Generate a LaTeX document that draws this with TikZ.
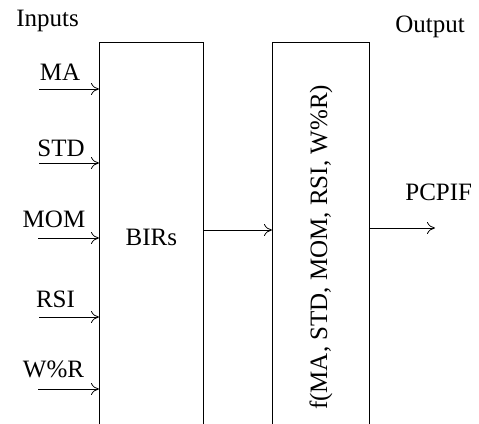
\documentclass[tikz,border=0pt]{standalone}
\usepackage{fontspec}
\setmainfont{Liberation Serif}
\usepackage{tikz}
\usetikzlibrary{positioning, arrows.meta}

\begin{document}
\begin{tikzpicture}[x=1pt,y=-1pt,line width=0.8pt,
    >={To[length=8pt, width=12pt]},
    blk/.style={draw, rectangle, inner sep=0pt, anchor=north west},
    lbl/.style={anchor=base, inner sep=0pt}]
    \fontsize{25}{28}\selectfont
    \useasboundingbox (0,0) rectangle (479,423);
    \clip (0,0) rectangle (479,423);

    \node[blk, minimum width=104pt, minimum height=390pt] (birs) at (99,42) {BIRs};
    \node[blk, minimum width=97pt, minimum height=410pt] (fun) at (272,42)
        {\rotatebox{90}{f(MA, STD, MOM, RSI, W\%R)}};

    \node[lbl, anchor=base west] (in) at (16,27) {Inputs};
    \node[lbl, anchor=base west] (out) at (395,32) {Output};

    % inputs
    \coordinate (ma) at (39,89);
    \coordinate (std) at (39,163);
    \coordinate (mom) at (38,238);
    \coordinate (rsi) at (39,317);
    \coordinate (wr) at (38,389);
    \node[lbl] (lma) at (60,80) {MA};
    \node[lbl] (lstd) at (61,156) {STD};
    \node[lbl] (lmom) at (54,227) {MOM};
    \node[lbl] (lrsi) at (55.5,307) {RSI};
    \node[lbl] (lwr) at (53.5,377) {W\%R};

    \path[->]
      (ma) edge (ma -| birs.west)
      (std) edge (std -| birs.west)
      (mom) edge (mom -| birs.west)
      (rsi) edge (rsi -| birs.west)
      (wr) edge (wr -| birs.west);

    % output
    \coordinate (mid) at (203,230);
    \coordinate (res) at (435,228);
    \node[lbl, anchor=base west] (pcpif) at (405,200) {PCPIF};
    \draw[->] (mid -| birs.east) -- (mid -| fun.west);
    \draw[->] (res -| fun.east) -- (res);
\end{tikzpicture}
\end{document}
